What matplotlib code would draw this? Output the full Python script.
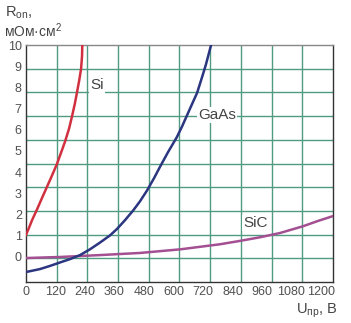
import matplotlib
matplotlib.use("Agg")
import matplotlib.pyplot as plt
import numpy as np

# ---- data ----
si_u = [0, 12, 24, 45, 65, 85, 106, 126, 142, 159, 175, 187, 199, 207, 216, 224, 228, 229]
si_r = [1.04, 1.37, 1.72, 2.25, 2.78, 3.30, 3.85, 4.39, 4.90, 5.45, 6.05, 6.62, 7.25, 7.74, 8.30, 8.87, 9.48, 10.0]

gaas_u = [0, 57, 98, 138, 179, 220, 260, 301, 342, 370, 403, 435, 464, 492, 521, 545,
          578, 614, 635, 655, 675, 696, 708, 720, 732, 740, 753]
gaas_r = [-0.71, -0.57, -0.42, -0.26, -0.10, 0.09, 0.36, 0.68, 1.02, 1.32, 1.74, 2.18, 2.63, 3.13,
          3.72, 4.25, 4.95, 5.66, 6.16, 6.68, 7.20, 7.74, 8.18, 8.62, 9.08, 9.43, 10.0]

sic_u = [0, 138, 301, 464, 627, 789, 871, 952, 1033, 1127, 1188, 1249]
sic_r = [-0.05, 0.0, 0.09, 0.19, 0.36, 0.60, 0.76, 0.93, 1.13, 1.45, 1.70, 1.93]

x_ticks = [0, 120, 240, 360, 480, 600, 720, 840, 960, 1080, 1200]
y_ticks = [0, 1, 2, 3, 4, 5, 6, 7, 8, 9, 10]

X_MAX = 1249
Y_MIN = -1.18
Y_MAX = 10

plt.rcParams['font.family'] = ['Liberation Sans', 'DejaVu Sans']

fig = plt.figure(figsize=(3.51, 3.23), dpi=100)
ax = fig.add_axes([26/351, (323-282)/323, (333-26)/351, (282-45)/323])

ax.set_xlim(0, X_MAX)
ax.set_ylim(Y_MIN, Y_MAX)

grid_c = '#4f9c82'
for gx in np.linspace(0, X_MAX, 11)[1:-1]:
    ax.axvline(gx, color=grid_c, lw=1.0, zorder=1)
for gy in np.linspace(Y_MIN, Y_MAX, 11)[1:-1]:
    ax.axhline(gy, color=grid_c, lw=1.0, zorder=1)

ax.plot(sic_u, sic_r, color='#a34f92', lw=1.8, zorder=3, solid_joinstyle='round')
ax.plot(gaas_u, gaas_r, color='#2b3580', lw=1.8, zorder=3, solid_joinstyle='round')
ax.plot(si_u, si_r, color='#d0303f', lw=1.8, zorder=3, solid_joinstyle='round')

ax.set_xticks(x_ticks)
ax.set_yticks(y_ticks)
ax.tick_params(length=0, labelsize=9, labelcolor='#505050', pad=3)

for s in ['left', 'bottom', 'right']:
    ax.spines[s].set_color('#333333')
    ax.spines[s].set_linewidth(1.0)
ax.spines['top'].set_color('#888888')
ax.spines['top'].set_linewidth(1.0)

bb = dict(facecolor='white', edgecolor='none', pad=1.0)
ax.text(262, 8.1, 'Si', fontsize=11, color='#444444', ha='left', va='center', bbox=bb, zorder=4)
ax.text(700, 6.7, 'GaAs', fontsize=11, color='#444444', ha='left', va='center', bbox=bb, zorder=4)
ax.text(885, 1.6, 'SiC', fontsize=11, color='#444444', ha='left', va='center', bbox=bb, zorder=4)

fig.text(5/351, 1 - 13/323, r'R$_{\mathregular{on}}$,', fontsize=10.5, color='#444444', ha='left', va='center')
fig.text(4/351, 1 - 31/323, 'мОм·см$^{\\mathregular{2}}$', fontsize=10, color='#444444', ha='left', va='center')
fig.text(338/351, 1 - 311/323, r'U$_{\mathregular{пр}}$, В', fontsize=10.5, color='#444444', ha='right', va='center')

fig.savefig('out.png', dpi=100)
